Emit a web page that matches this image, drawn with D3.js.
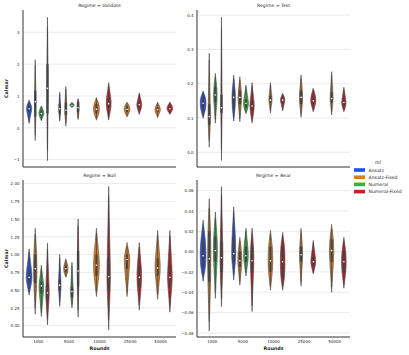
<!DOCTYPE html>
<html>
<head>
<meta charset="utf-8">
<script src="https://cdn.jsdelivr.net/npm/d3@7"></script>
<style>
  body { margin: 0; background: #fff; }
  text { font-family: "DejaVu Sans", sans-serif; fill: #262626; }
</style>
</head>
<body>
<div id="chart"></div>
<script>
let rounds = ["1000", "5000", "10000", "25000", "50000"];
let mls = ["Ansatz", "Ansatz-Fixed", "Numeral", "Numeral-Fixed"];
let mlColors = ["#224fdf", "#df7d20", "#30b346", "#cb1d25"];

// each row: [round, ml, lo, q1, median, q3, hi, relative width]
let validate = [
    ["1000", "Ansatz", 0.14, 0.5, 0.6, 0.7, 0.87, 0.9],
    ["1000", "Ansatz-Fixed", -0.4, 0.36, 0.82, 1.17, 2.14, 0.25],
    ["1000", "Numeral", 0.22, 0.38, 0.45, 0.55, 0.69, 0.85],
    ["1000", "Numeral-Fixed", -1.03, 0.45, 1.24, 2.0, 3.47, 0.22],
    ["5000", "Ansatz", 0.21, 0.45, 0.6, 0.75, 1.12, 0.3],
    ["5000", "Ansatz-Fixed", 0.05, 0.4, 0.55, 0.8, 1.3, 0.35],
    ["5000", "Numeral", 0.64, 0.68, 0.71, 0.75, 0.8, 0.75],
    ["5000", "Numeral-Fixed", 0.26, 0.5, 0.63, 0.8, 0.92, 0.35],
    ["10000", "Ansatz-Fixed", 0.24, 0.45, 0.58, 0.75, 0.95, 1.0],
    ["10000", "Numeral-Fixed", 0.24, 0.6, 0.76, 0.95, 1.42, 0.85],
    ["25000", "Ansatz-Fixed", 0.34, 0.5, 0.58, 0.68, 0.81, 1.0],
    ["25000", "Numeral-Fixed", 0.42, 0.62, 0.73, 0.82, 1.1, 0.85],
    ["50000", "Ansatz-Fixed", 0.32, 0.5, 0.57, 0.65, 0.81, 0.95],
    ["50000", "Numeral-Fixed", 0.42, 0.55, 0.6, 0.68, 0.81, 1.0]
];

let test = [
    ["1000", "Ansatz", 0.099, 0.125, 0.143, 0.16, 0.179, 1.0],
    ["1000", "Ansatz-Fixed", 0.015, 0.08, 0.104, 0.14, 0.289, 0.4],
    ["1000", "Numeral", 0.085, 0.145, 0.167, 0.19, 0.23, 0.6],
    ["1000", "Numeral-Fixed", -0.024, 0.115, 0.13, 0.167, 0.394, 0.25],
    ["5000", "Ansatz", 0.091, 0.13, 0.16, 0.18, 0.225, 0.6],
    ["5000", "Ansatz-Fixed", 0.089, 0.14, 0.16, 0.18, 0.22, 0.6],
    ["5000", "Numeral", 0.112, 0.13, 0.143, 0.155, 0.196, 0.85],
    ["5000", "Numeral-Fixed", 0.085, 0.12, 0.135, 0.15, 0.203, 0.75],
    ["10000", "Ansatz-Fixed", 0.114, 0.145, 0.152, 0.165, 0.203, 0.55],
    ["10000", "Numeral-Fixed", 0.121, 0.145, 0.152, 0.16, 0.172, 0.75],
    ["25000", "Ansatz-Fixed", 0.102, 0.14, 0.16, 0.18, 0.225, 0.55],
    ["25000", "Numeral-Fixed", 0.118, 0.14, 0.15, 0.165, 0.187, 0.9],
    ["50000", "Ansatz-Fixed", 0.109, 0.145, 0.157, 0.175, 0.235, 0.5],
    ["50000", "Numeral-Fixed", 0.118, 0.135, 0.145, 0.155, 0.19, 0.75]
];

let bull = [
    ["1000", "Ansatz", 0.43, 0.6, 0.68, 0.78, 1.08, 1.0],
    ["1000", "Ansatz-Fixed", 0.16, 0.6, 0.8, 1.0, 1.37, 0.6],
    ["1000", "Numeral", 0.13, 0.45, 0.56, 0.62, 0.85, 0.8],
    ["1000", "Numeral-Fixed", 0.01, 0.35, 0.46, 0.58, 1.16, 0.6],
    ["5000", "Ansatz", 0.27, 0.5, 0.57, 0.65, 1.0, 0.45],
    ["5000", "Ansatz-Fixed", 0.68, 0.75, 0.8, 0.85, 0.94, 0.75],
    ["5000", "Numeral", 0.25, 0.4, 0.48, 0.55, 0.89, 0.45],
    ["5000", "Numeral-Fixed", 0.12, 0.55, 0.77, 1.05, 1.5, 0.3],
    ["10000", "Ansatz-Fixed", 0.41, 0.7, 0.85, 1.0, 1.37, 1.0],
    ["10000", "Numeral-Fixed", -0.06, 0.5, 0.69, 0.95, 1.96, 0.6],
    ["25000", "Ansatz-Fixed", 0.41, 0.8, 0.93, 1.0, 1.17, 0.95],
    ["25000", "Numeral-Fixed", 0.22, 0.55, 0.68, 0.85, 1.17, 0.8],
    ["50000", "Ansatz-Fixed", 0.37, 0.7, 0.81, 0.95, 1.34, 0.9],
    ["50000", "Numeral-Fixed", 0.19, 0.55, 0.68, 0.85, 1.34, 0.8]
];

let bear = [
    ["1000", "Ansatz", -0.029, -0.015, -0.004, 0.01, 0.031, 1.0],
    ["1000", "Ansatz-Fixed", -0.078, -0.03, -0.007, 0.02, 0.052, 0.55],
    ["1000", "Numeral", -0.046, -0.01, 0.001, 0.015, 0.039, 0.7],
    ["1000", "Numeral-Fixed", -0.054, -0.02, -0.006, 0.01, 0.064, 0.5],
    ["5000", "Ansatz", -0.028, -0.01, -0.002, 0.015, 0.044, 0.7],
    ["5000", "Ansatz-Fixed", -0.033, -0.015, -0.009, 0.0, 0.014, 0.7],
    ["5000", "Numeral", -0.024, -0.01, -0.004, 0.005, 0.023, 0.8],
    ["5000", "Numeral-Fixed", -0.059, -0.02, -0.009, 0.005, 0.023, 0.6],
    ["10000", "Ansatz-Fixed", -0.038, -0.02, -0.009, 0.005, 0.021, 0.8],
    ["10000", "Numeral-Fixed", -0.038, -0.025, -0.01, 0.005, 0.019, 0.8],
    ["25000", "Ansatz-Fixed", -0.034, -0.01, -0.003, 0.005, 0.023, 0.55],
    ["25000", "Numeral-Fixed", -0.022, -0.014, -0.01, -0.005, 0.011, 0.85],
    ["50000", "Ansatz-Fixed", -0.04, -0.01, 0.001, 0.012, 0.027, 0.75],
    ["50000", "Numeral-Fixed", -0.036, -0.02, -0.01, 0.0, 0.014, 0.8]
];

let validateTicks = [-1, 0, 1, 2, 3];
let testTicks = [0.0, 0.1, 0.2, 0.3, 0.4];
let bullTicks = [0, 0.25, 0.5, 0.75, 1.0, 1.25, 1.5, 1.75, 2.0];
let bearTicks = [-0.08, -0.06, -0.04, -0.02, 0.0, 0.02, 0.04, 0.06];

// facet layout
let panels = [
    {title: "Regime = Validate", data: validate, ticks: validateTicks, fmt: d3.format("d"),
     domain: [-1.23, 3.7], x: 23, y: 10, ylabel: true, xlabels: false},
    {title: "Regime = Test", data: test, ticks: testTicks, fmt: d3.format(".1f"),
     domain: [-0.043, 0.415], x: 197, y: 10, ylabel: false, xlabels: false},
    {title: "Regime = Bull", data: bull, ticks: bullTicks, fmt: d3.format(".2f"),
     domain: [-0.16, 2.05], x: 23, y: 180, ylabel: true, xlabels: true},
    {title: "Regime = Bear", data: bear, ticks: bearTicks, fmt: d3.format(".2f"),
     domain: [-0.084, 0.0705], x: 197, y: 180, ylabel: false, xlabels: true}
];
let pw = 153, ph = 157;
let gray = "#444444";

let svg = d3.select("#chart").append("svg")
    .attr("width", 409)
    .attr("height", 355);

let color = d3.scaleOrdinal().domain(mls).range(mlColors);

panels.forEach(p => {
    let g = svg.append("g").attr("transform", `translate(${p.x},${p.y})`);

    let x = d3.scaleBand().domain(rounds).range([0, pw]);
    let bw = x.bandwidth();
    let hue = d3.scaleBand().domain(mls).range([-0.4 * bw, 0.4 * bw]);
    let slot = hue.bandwidth();
    let y = d3.scaleLinear().domain(p.domain).range([ph, 0]);

    // grid
    g.selectAll(".grid").data(p.ticks).enter().append("line")
        .attr("x1", 0).attr("x2", pw)
        .attr("y1", d => y(d)).attr("y2", d => y(d))
        .attr("stroke", "#e6e6e6")
        .attr("stroke-width", 0.8);

    let area = d3.area()
        .y(d => y(d[0]))
        .x0(d => -d[1])
        .x1(d => d[1])
        .curve(d3.curveBasis);

    p.data.forEach(r => {
        let [rd, ml, lo, q1, med, q3, hi, w] = r;
        let cx = x(rd) + bw / 2 + hue(ml) + slot / 2;
        let hw = slot / 2 * w;
        let prof = [
            [lo, 0], [lo + (q1 - lo) * 0.5, hw * 0.35], [q1, hw * 0.8],
            [med, hw], [q3, hw * 0.8], [q3 + (hi - q3) * 0.5, hw * 0.35], [hi, 0]
        ];
        let vg = g.append("g").attr("transform", `translate(${cx},0)`);
        vg.append("path")
            .attr("d", area(prof))
            .attr("fill", color(ml))
            .attr("stroke", gray)
            .attr("stroke-width", 0.6);
        // inner box
        let span = hi - lo;
        vg.append("line")
            .attr("x1", 0).attr("x2", 0)
            .attr("y1", y(lo + span * 0.07)).attr("y2", y(hi - span * 0.07))
            .attr("stroke", gray).attr("stroke-width", 0.8);
        vg.append("line")
            .attr("x1", 0).attr("x2", 0)
            .attr("y1", y(q1)).attr("y2", y(q3))
            .attr("stroke", gray).attr("stroke-width", 2.2);
        vg.append("circle")
            .attr("cx", 0).attr("cy", y(med))
            .attr("r", 0.8)
            .attr("fill", "#fff");
    });

    // spines
    g.append("line").attr("x1", 0).attr("x2", 0).attr("y1", 0).attr("y2", ph)
        .attr("stroke", "#333").attr("stroke-width", 1);
    g.append("line").attr("x1", 0).attr("x2", pw).attr("y1", ph).attr("y2", ph)
        .attr("stroke", "#333").attr("stroke-width", 1);

    // y ticks
    let yAxis = d3.axisLeft(y).tickValues(p.ticks).tickFormat(p.fmt).tickSize(0).tickPadding(3.5);
    let ya = g.append("g").call(yAxis);
    ya.select(".domain").remove();
    ya.selectAll("text").style("font-size", "4px").attr("fill", "#262626");

    if (p.xlabels) {
        let xAxis = d3.axisBottom(x).tickSize(0).tickPadding(3);
        let xa = g.append("g").attr("transform", `translate(0,${ph})`).call(xAxis);
        xa.select(".domain").remove();
        xa.selectAll("text").style("font-size", "4px").attr("fill", "#262626");
        g.append("text")
            .attr("x", pw / 2).attr("y", ph + 13)
            .attr("text-anchor", "middle")
            .style("font-size", "4.8px").style("font-weight", "bold")
            .text("Rounds");
    }

    if (p.ylabel) {
        g.append("text")
            .attr("transform", `translate(${-15.5},${ph / 2}) rotate(-90)`)
            .attr("text-anchor", "middle")
            .style("font-size", "4.8px").style("font-weight", "bold")
            .text("Calmar");
    }

    g.append("text")
        .attr("x", pw / 2).attr("y", -3)
        .attr("text-anchor", "middle")
        .style("font-size", "4.6px")
        .text(p.title);
});

// legend
let leg = svg.append("g").attr("transform", "translate(354,0)");
leg.append("text")
    .attr("x", 24).attr("y", 163.5)
    .attr("text-anchor", "middle")
    .style("font-size", "4.6px")
    .text("ml");
mls.forEach((m, i) => {
    let yy = 170 + i * 7.2;
    leg.append("rect")
        .attr("x", 0).attr("y", yy - 1.8)
        .attr("width", 11).attr("height", 3.6)
        .attr("fill", color(m));
    leg.append("text")
        .attr("x", 14.5).attr("y", yy + 1.6)
        .style("font-size", "4.6px")
        .text(m);
});
</script>
</body>
</html>
